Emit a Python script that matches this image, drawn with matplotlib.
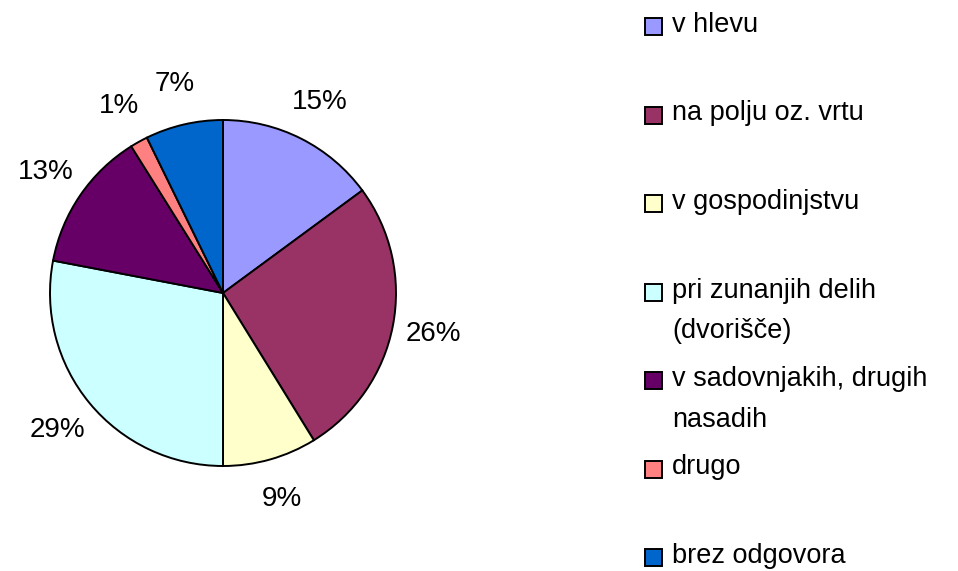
import matplotlib
matplotlib.use("Agg")
import matplotlib.pyplot as plt
from matplotlib.patches import Rectangle

plt.rcParams['font.family'] = ['Liberation Sans', 'DejaVu Sans']

# kategorije in deleži (odčitano s slike)
kategorije = ["v hlevu", "na polju oz. vrtu", "v gospodinjstvu",
              "pri zunanjih delih\n(dvorišče)", "v sadovnjakih, drugih\nnasadih",
              "drugo", "brez odgovora"]
delezi = [14.9, 26.3, 8.8, 28.0, 13.1, 1.65, 7.25]
oznake = ["15%", "26%", "9%", "29%", "13%", "1%", "7%"]
barve = ["#9999FF", "#993366", "#FFFFCC", "#CCFFFF", "#660066", "#FF8080", "#0066CC"]

W, H = 958, 571
fig = plt.figure(figsize=(W / 100, H / 100), dpi=100)

# pita: središče (223, 293), polmer 173 px
cx, cy, r = 223, 293, 173
ax = fig.add_axes([(cx - r) / W, (H - cy - r) / H, 2 * r / W, 2 * r / H])
wedges, texts = ax.pie(delezi, colors=barve, startangle=90, counterclock=False,
                       labels=oznake, labeldistance=1.24,
                       wedgeprops=dict(edgecolor="black", linewidth=1.4),
                       textprops=dict(fontsize=20))
for t in texts:
    t.set_ha("center")
    t.set_va("center")
ax.set_xlim(-1, 1)
ax.set_ylim(-1, 1)
ax.set_aspect("equal")
ax.axis("off")

# legenda, narisana ročno
for i, (ime, barva) in enumerate(zip(kategorije, barve)):
    y = 25 + 88.5 * i
    fig.patches.append(Rectangle((645 / W, 1 - (y + 10) / H), 17 / W, 17 / H,
                                 transform=fig.transFigure, facecolor=barva,
                                 edgecolor="black", linewidth=1.4))
    for j, vrstica in enumerate(ime.split("\n")):
        fig.text(672 / W, 1 - (y + 41 * j) / H, vrstica, fontsize=19.5,
                 ha="left", va="center")

fig.savefig("out.png", dpi=100)
